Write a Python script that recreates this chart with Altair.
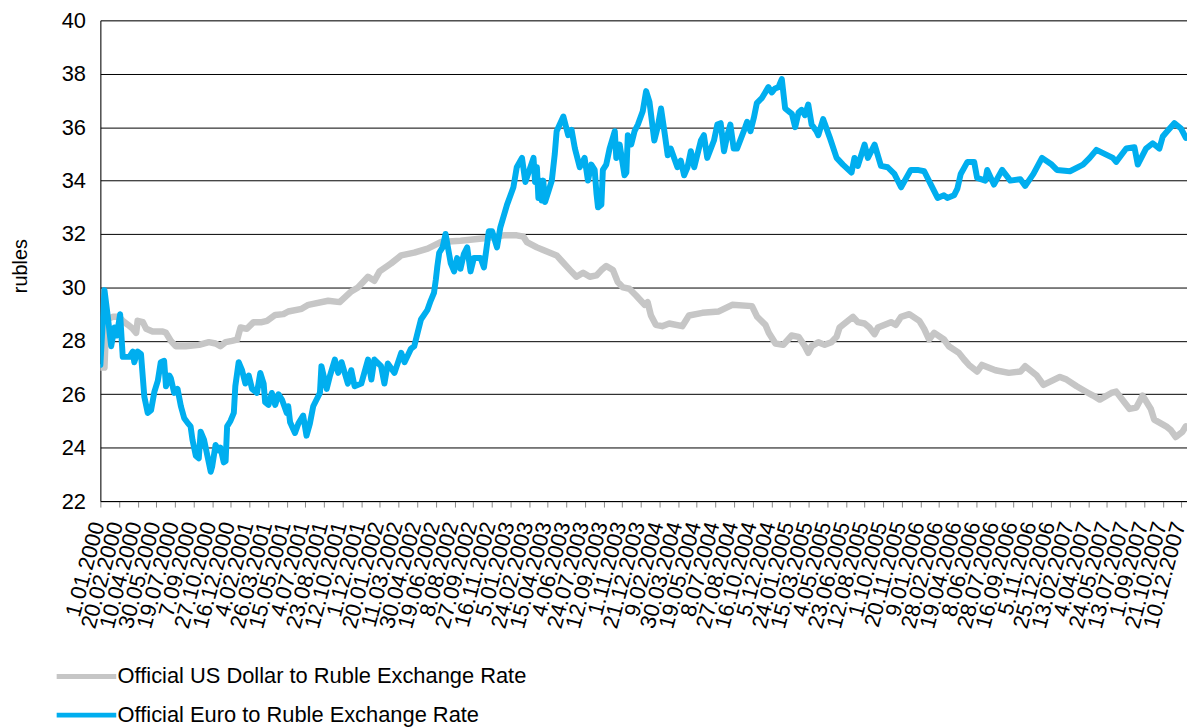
import altair as alt
import pandas as pd

USD = "Official US Dollar to Ruble Exchange Rate"
EUR = "Official Euro to Ruble Exchange Rate"

# days since 1.01.2000 and rate (rubles)
usd_day = [0, 11, 16, 34, 51, 60, 74, 87, 96, 100, 114, 123, 140, 167, 176, 189, 202, 229, 265, 291,
           309, 322, 336, 353, 367, 376, 393, 411, 433, 447, 469, 491, 504, 540, 558, 611, 642, 673, 691, 718,
           735, 749, 780, 807, 842, 878, 913, 966, 1037, 1082, 1117, 1135, 1144, 1171, 1188, 1206, 1224, 1237, 1260, 1277,
           1295, 1313, 1331, 1344, 1357, 1375, 1388, 1402, 1419, 1437, 1460, 1468, 1477, 1490, 1507, 1526, 1561, 1579, 1615, 1659,
           1695, 1748, 1762, 1784, 1793, 1811, 1832, 1854, 1873, 1890, 1899, 1908, 1926, 1943, 1961, 1975, 1983, 2019, 2032, 2050,
           2063, 2077, 2086, 2121, 2134, 2148, 2170, 2197, 2210, 2223, 2237, 2263, 2276, 2303, 2317, 2330, 2352, 2365, 2401, 2437,
           2468, 2481, 2512, 2530, 2574, 2592, 2619, 2650, 2663, 2681, 2712, 2725, 2747, 2761, 2779, 2796, 2818, 2827, 2859, 2872,
           2885, 2903, 2912]
usd_rate = [27.0, 27.0, 28.8, 28.9, 28.9, 28.75, 28.6, 28.45, 28.3, 28.75, 28.7, 28.45, 28.35, 28.35, 28.3, 28.0, 27.8, 27.8, 27.85, 27.95,
            27.9, 27.8, 27.95, 28.0, 28.05, 28.5, 28.45, 28.7, 28.7, 28.75, 28.97, 29.0, 29.1, 29.2, 29.35, 29.5, 29.45, 29.85, 30.0, 30.4,
            30.25, 30.6, 30.9, 31.2, 31.3, 31.45, 31.7, 31.75, 31.85, 31.95, 31.95, 31.9, 31.7, 31.5, 31.4, 31.3, 31.2, 31.0, 30.65, 30.4,
            30.55, 30.4, 30.45, 30.65, 30.8, 30.65, 30.2, 30.0, 29.95, 29.7, 29.35, 29.45, 28.95, 28.6, 28.55, 28.65, 28.55, 28.95, 29.05, 29.1,
            29.35, 29.3, 28.9, 28.6, 28.3, 27.9, 27.85, 28.2, 28.15, 27.8, 27.55, 27.8, 27.95, 27.85, 27.95, 28.15, 28.5, 28.9, 28.7, 28.65,
            28.5, 28.25, 28.5, 28.7, 28.6, 28.9, 29.0, 28.75, 28.45, 28.05, 28.3, 28.05, 27.8, 27.55, 27.3, 27.1, 26.85, 27.1, 26.9, 26.8,
            26.85, 27.05, 26.7, 26.35, 26.65, 26.55, 26.3, 26.05, 25.95, 25.8, 26.05, 26.1, 25.7, 25.45, 25.5, 25.95, 25.45, 25.05, 24.8, 24.65,
            24.4, 24.6, 24.8]

eur_day = [0, 11, 20, 29, 38, 44, 53, 60, 78, 87, 91, 100, 109, 118, 127, 136, 145, 154, 162, 171,
           176, 185, 189, 198, 207, 216, 225, 233, 242, 247, 256, 264, 269, 278, 287, 296, 300, 309, 318, 322,
           331, 336, 340, 349, 358, 362, 367, 371, 380, 389, 398, 407, 420, 429, 438, 442, 451, 460, 469, 478,
           487, 500, 504, 509, 522, 531, 544, 553, 562, 571, 589, 593, 607, 616, 629, 638, 647, 664, 673, 682,
           700, 718, 727, 735, 753, 762, 771, 789, 807, 816, 833, 842, 851, 860, 877, 886, 895, 900, 904, 909,
           918, 926, 940, 949, 957, 966, 975, 984, 993, 1002, 1020, 1029, 1042, 1051, 1064, 1073, 1091, 1108, 1117, 1131,
           1140, 1162, 1166, 1171, 1175, 1180, 1184, 1188, 1193, 1202, 1211, 1219, 1224, 1242, 1255, 1264, 1273, 1286, 1299, 1308,
           1317, 1326, 1331, 1335, 1344, 1348, 1357, 1366, 1380, 1384, 1393, 1406, 1411, 1415, 1424, 1433, 1442, 1455, 1464, 1473,
           1486, 1495, 1504, 1513, 1522, 1530, 1548, 1557, 1566, 1575, 1584, 1593, 1611, 1619, 1628, 1646, 1655, 1664, 1673, 1682,
           1690, 1699, 1708, 1726, 1735, 1744, 1753, 1761, 1775, 1792, 1801, 1810, 1819, 1828, 1837, 1855, 1864, 1873, 1881, 1890,
           1899, 1908, 1921, 1926, 1939, 1957, 1975, 1992, 2015, 2023, 2032, 2050, 2059, 2077, 2094, 2112, 2130, 2148, 2174, 2192,
           2210, 2228, 2246, 2263, 2272, 2290, 2299, 2308, 2326, 2344, 2352, 2374, 2379, 2397, 2419, 2441, 2468, 2481, 2503, 2526,
           2552, 2566, 2601, 2636, 2654, 2672, 2694, 2716, 2725, 2752, 2774, 2783, 2805, 2823, 2841, 2850, 2859, 2881, 2899, 2912]
eur_rate = [27.1, 29.9, 28.9, 27.8, 28.5, 28.2, 29.0, 27.4, 27.4, 27.6, 27.2, 27.6, 27.5, 25.9, 25.3, 25.4, 26.1, 26.5, 27.2, 27.25,
            26.3, 26.7, 26.6, 26.05, 26.2, 25.55, 25.1, 24.95, 24.8, 24.3, 23.7, 23.6, 24.6, 24.3, 23.7, 23.1, 23.3, 24.1, 23.9, 24.0,
            23.45, 23.5, 24.8, 25.0, 25.3, 26.3, 26.8, 27.2, 26.9, 26.4, 26.7, 26.2, 26.05, 26.8, 26.4, 25.7, 25.6, 26.05, 25.6, 26.0,
            25.8, 25.3, 25.55, 24.95, 24.55, 24.9, 25.2, 24.45, 24.9, 25.55, 26.05, 27.05, 26.2, 26.7, 27.3, 26.8, 27.2, 26.4, 26.9, 26.3,
            26.4, 27.3, 26.55, 27.3, 27.05, 26.4, 27.15, 26.8, 27.55, 27.2, 27.7, 27.8, 28.3, 28.8, 29.15, 29.5, 29.8, 30.3, 30.8, 31.3,
            31.5, 32.0, 30.9, 30.6, 31.1, 30.7, 31.25, 31.5, 30.6, 31.1, 31.1, 30.75, 32.1, 32.1, 31.5, 32.25, 33.1, 33.75, 34.5, 34.85,
            33.95, 34.85, 33.95, 34.5, 33.35, 34.0, 33.25, 34.0, 33.2, 33.6, 34.0, 35.0, 35.85, 36.4, 35.7, 35.9, 35.2, 34.5, 34.85, 34.0,
            34.6, 34.4, 33.5, 33.0, 33.1, 34.4, 34.6, 35.2, 35.85, 34.85, 35.35, 34.2, 34.3, 35.7, 35.35, 35.85, 36.1, 36.6, 37.35, 36.95,
            35.5, 36.0, 36.7, 35.85, 34.95, 35.2, 34.5, 34.75, 34.2, 34.5, 35.1, 34.5, 35.5, 35.7, 34.85, 35.5, 36.1, 36.15, 35.1, 35.7,
            36.1, 35.2, 35.2, 35.85, 36.2, 35.85, 36.35, 36.9, 37.1, 37.5, 37.3, 37.45, 37.5, 37.8, 36.7, 36.5, 36.0, 36.55, 36.65, 36.45,
            36.85, 36.1, 35.85, 35.7, 36.3, 35.6, 34.85, 34.6, 34.3, 34.85, 34.55, 35.35, 34.85, 35.35, 34.55, 34.5, 34.25, 33.75, 34.4, 34.4,
            34.35, 33.85, 33.35, 33.45, 33.35, 33.45, 33.7, 34.25, 34.7, 34.7, 34.1, 34.0, 34.4, 33.85, 34.4, 34.0, 34.05, 33.8, 34.25, 34.85,
            34.6, 34.4, 34.35, 34.6, 34.85, 35.15, 35.0, 34.85, 34.7, 35.2, 35.25, 34.6, 35.2, 35.4, 35.2, 35.65, 35.8, 36.15, 35.95, 35.6]

tick_days = list(range(0, 2901, 50))
y_ticks = [22, 24, 26, 28, 30, 32, 34, 36, 38, 40]

FONT = "Liberation Sans"

df_usd = pd.DataFrame({"day": usd_day, "rate": usd_rate, "series": USD})
df_eur = pd.DataFrame({"day": eur_day, "rate": eur_rate, "series": EUR})

x_enc = alt.X(
    "day:Q",
    scale=alt.Scale(domain=[0, 2915], nice=False, zero=False),
    axis=alt.Axis(
        values=tick_days,
        labelExpr="timeFormat(datetime(2000, 0, 1 + datum.value), '%-d.%m.%Y')",
        labelAngle=-75, labelAlign="right", labelBaseline="middle",
        labelFontSize=22, labelFont=FONT, labelColor="black",
        labelPadding=15, labelOffset=-3, labelOverlap=False, labelFlush=False,
        tickSize=6, tickColor="#888888", tickWidth=1,
        domainColor="black", domainWidth=1,
        grid=False, title=None,
    ),
)
y_enc = alt.Y(
    "rate:Q",
    scale=alt.Scale(domain=[22, 40], nice=False, zero=False),
    axis=alt.Axis(
        values=y_ticks, title="rubles",
        titleFontSize=20, titleFont=FONT, titleFontWeight="normal", titleColor="black",
        titleAngle=-90, titleX=-74, titleY=247, titleAlign="center", titleBaseline="alphabetic",
        labelFontSize=22, labelFont=FONT, labelColor="black", labelPadding=15, labelFlush=False,
        tickSize=0, grid=True, gridColor="black", gridWidth=1,
        domainColor="black", domainWidth=1,
    ),
)
color_enc = alt.Color(
    "series:N",
    scale=alt.Scale(domain=[USD, EUR], range=["#C6C6C6", "#00AEEF"]),
    legend=alt.Legend(
        title=None, orient="none", legendX=-26.5, legendY=648, direction="vertical",
        symbolType="M-3,0H3", symbolSize=400, symbolStrokeWidth=5,
        labelOffset=18.8, rowPadding=15, padding=0,
        labelFontSize=22, labelFont=FONT, labelColor="black", labelLimit=0,
    ),
)

usd_line = alt.Chart(df_usd).mark_line(
    strokeWidth=6.5, strokeJoin="round", strokeCap="round", clip=True
).encode(x=x_enc, y=y_enc, color=color_enc)
eur_line = alt.Chart(df_eur).mark_line(
    strokeWidth=6, strokeJoin="round", strokeCap="round", clip=True
).encode(x=x_enc, y=y_enc, color=color_enc)

chart = (
    alt.layer(usd_line, eur_line)
    .properties(
        width=1094, height=484, autosize="none",
        padding={"left": 93, "top": 10, "right": 0, "bottom": 225},
    )
    .configure_view(strokeWidth=0)
    .configure(background="white")
)

chart.save("out.html", embed_options={"renderer": "svg", "actions": False})
